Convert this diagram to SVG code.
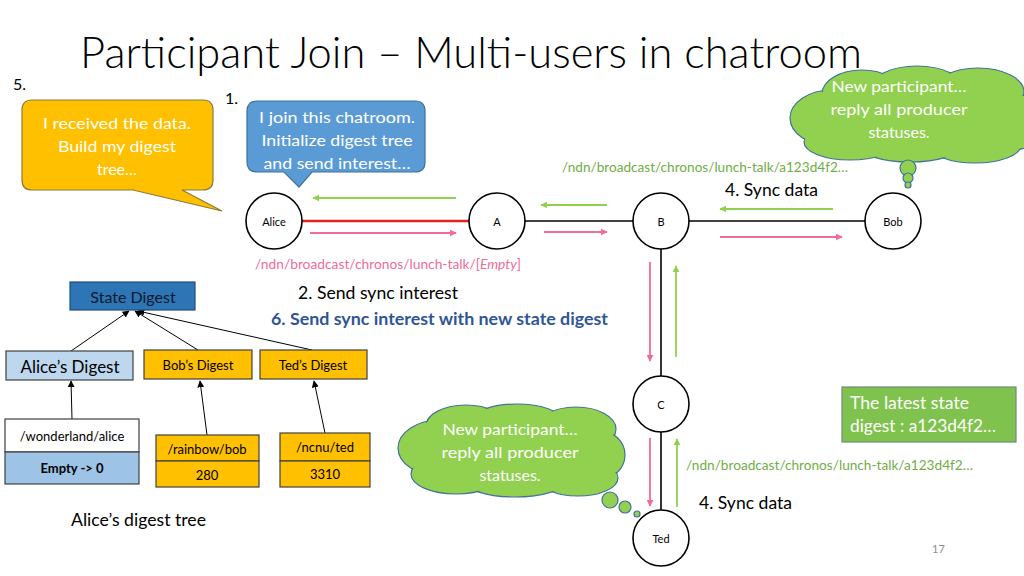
<svg xmlns="http://www.w3.org/2000/svg" width="1024" height="576" viewBox="0 0 1024 576">
<defs>
<marker id="mg" viewBox="0 0 10 10" refX="9" refY="5" markerWidth="7" markerHeight="7" markerUnits="userSpaceOnUse" orient="auto"><path d="M0,0 L10,5 L0,10 Z" fill="#92D050"/></marker>
<marker id="mp" viewBox="0 0 10 10" refX="9" refY="5" markerWidth="7" markerHeight="7" markerUnits="userSpaceOnUse" orient="auto"><path d="M0,0 L10,5 L0,10 Z" fill="#F2699B"/></marker>
<marker id="mk" viewBox="0 0 10 10" refX="9" refY="5" markerWidth="7" markerHeight="7" markerUnits="userSpaceOnUse" orient="auto"><path d="M0,0 L10,5 L0,10 Z" fill="#000"/></marker>
</defs>
<style>
text{font-family:Lato,"Open Sans","Liberation Sans",sans-serif;}
.node{fill:#fff;stroke:#000;stroke-width:1.6;}
.nl{font-size:11px;fill:#000;text-anchor:middle;dominant-baseline:central;}
.lk{stroke:#000;stroke-width:1.6;fill:none;}
.ga{stroke:#92D050;stroke-width:1.8;fill:none;marker-end:url(#mg);}
.pa{stroke:#F2699B;stroke-width:1.8;fill:none;marker-end:url(#mp);}
.ta{stroke:#000;stroke-width:1;fill:none;marker-end:url(#mk);}
.wt{fill:#fff;font-size:16px;text-anchor:middle;}
.lbl{font-size:17px;fill:#000;}
.blue{font-size:17px;fill:#2F5597;font-weight:bold;}
.gl{font-size:13px;fill:#70AD47;}
.pl{font-size:13px;fill:#EE6D98;}
.box{stroke:#404040;stroke-width:1.2;}
.bt{font-size:13px;fill:#000;text-anchor:middle;dominant-baseline:central;}
.bt16{font-size:16px;fill:#0D1A2B;text-anchor:middle;dominant-baseline:central;}
.bt17{font-size:17px;fill:#000;text-anchor:middle;dominant-baseline:central;}
.cs{fill:#92D050;stroke:#41719C;stroke-width:1.2;}
.cf{fill:#92D050;stroke:none;}
</style>

<text x="80" y="68" font-size="44" font-weight="300" fill="#000" textLength="782" lengthAdjust="spacingAndGlyphs">Participant Join – Multi-users in chatroom</text>
<text x="13" y="90" font-size="16" fill="#000">5.</text>
<text x="225" y="104" font-size="16" fill="#000">1.</text>

<g id="callout-yellow">
<path d="M32,100 H203 Q213,100 213,110 V180 Q213,190 203,190 H182 L222,211 L133,190 H32 Q22,190 22,180 V110 Q22,100 32,100 Z" fill="#FFC000" stroke="#8C7A3A" stroke-width="1.2"/>
<text class="wt" x="117" y="129" textLength="148" lengthAdjust="spacingAndGlyphs">I received the data.</text>
<text class="wt" x="117" y="152" textLength="118" lengthAdjust="spacingAndGlyphs">Build my digest</text>
<text class="wt" x="117" y="175">tree…</text>
</g>

<g id="callout-blue">
<path d="M257,101 H415 Q425,101 425,111 V162 Q425,172 415,172 H312 L299,187 L284,172 H257 Q247,172 247,162 V111 Q247,101 257,101 Z" fill="#5B9BD5" stroke="#41719C" stroke-width="1.2"/>
<text class="wt" x="337" y="123" textLength="156" lengthAdjust="spacingAndGlyphs">I join this chatroom.</text>
<text class="wt" x="337" y="146" textLength="151" lengthAdjust="spacingAndGlyphs">Initialize digest tree</text>
<text class="wt" x="337" y="169" textLength="147" lengthAdjust="spacingAndGlyphs">and send interest…</text>
</g>

<g id="cloud-top">
<ellipse class="cs" cx="832" cy="118" rx="42" ry="28"/>
<ellipse class="cs" cx="862" cy="94" rx="40" ry="24"/>
<ellipse class="cs" cx="917" cy="88" rx="46" ry="22"/>
<ellipse class="cs" cx="978" cy="92" rx="46" ry="24"/>
<ellipse class="cs" cx="1012" cy="122" rx="36" ry="28"/>
<ellipse class="cs" cx="975" cy="145" rx="46" ry="18"/>
<ellipse class="cs" cx="910" cy="146" rx="50" ry="16"/>
<ellipse class="cs" cx="850" cy="142" rx="46" ry="18"/>
<ellipse class="cf" cx="832" cy="118" rx="41" ry="27"/>
<ellipse class="cf" cx="862" cy="94" rx="39" ry="23"/>
<ellipse class="cf" cx="917" cy="88" rx="45" ry="21"/>
<ellipse class="cf" cx="978" cy="92" rx="45" ry="23"/>
<ellipse class="cf" cx="1012" cy="122" rx="35" ry="27"/>
<ellipse class="cf" cx="975" cy="145" rx="45" ry="17"/>
<ellipse class="cf" cx="910" cy="146" rx="49" ry="15"/>
<ellipse class="cf" cx="850" cy="142" rx="45" ry="17"/>
<ellipse class="cf" cx="915" cy="118" rx="100" ry="32"/>
<circle class="cs" cx="908" cy="168" r="8"/>
<circle class="cs" cx="908" cy="178" r="5"/>
<circle class="cs" cx="908" cy="185" r="3"/>
<text class="wt" x="899" y="92" textLength="135" lengthAdjust="spacingAndGlyphs">New participant…</text>
<text class="wt" x="899" y="115" textLength="137" lengthAdjust="spacingAndGlyphs">reply all producer</text>
<text class="wt" x="899" y="138">statuses.</text>
</g>

<g id="cloud-bottom">
<ellipse class="cs" cx="440" cy="448" rx="42" ry="28"/>
<ellipse class="cs" cx="466" cy="426" rx="40" ry="21"/>
<ellipse class="cs" cx="517" cy="421" rx="45" ry="17"/>
<ellipse class="cs" cx="576" cy="429" rx="40" ry="22"/>
<ellipse class="cs" cx="600" cy="455" rx="25" ry="24"/>
<ellipse class="cs" cx="578" cy="478" rx="40" ry="18"/>
<ellipse class="cs" cx="515" cy="481" rx="50" ry="16"/>
<ellipse class="cs" cx="456" cy="474" rx="45" ry="20"/>
<ellipse class="cf" cx="440" cy="448" rx="41" ry="27"/>
<ellipse class="cf" cx="466" cy="426" rx="39" ry="20"/>
<ellipse class="cf" cx="517" cy="421" rx="44" ry="16"/>
<ellipse class="cf" cx="576" cy="429" rx="39" ry="21"/>
<ellipse class="cf" cx="600" cy="455" rx="24" ry="23"/>
<ellipse class="cf" cx="578" cy="478" rx="39" ry="17"/>
<ellipse class="cf" cx="515" cy="481" rx="49" ry="15"/>
<ellipse class="cf" cx="456" cy="474" rx="44" ry="19"/>
<ellipse class="cf" cx="512" cy="452" rx="92" ry="30"/>
<circle class="cs" cx="610" cy="500" r="8"/>
<circle class="cs" cx="625" cy="507" r="6"/>
<circle class="cs" cx="637" cy="514" r="3"/>
<text class="wt" x="510" y="435" textLength="135" lengthAdjust="spacingAndGlyphs">New participant…</text>
<text class="wt" x="510" y="458" textLength="137" lengthAdjust="spacingAndGlyphs">reply all producer</text>
<text class="wt" x="510" y="481">statuses.</text>
</g>

<g id="connectors">
<line x1="302" y1="221" x2="469" y2="221" stroke="#E8201E" stroke-width="2.4"/>
<line class="lk" x1="525" y1="221" x2="633" y2="221"/>
<line class="lk" x1="689" y1="221" x2="865" y2="221"/>
<line class="lk" x1="661" y1="249" x2="661" y2="376"/>
<line class="lk" x1="661" y1="432" x2="661" y2="510"/>
<line class="ga" x1="456" y1="198" x2="313" y2="198"/>
<line class="pa" x1="310" y1="233" x2="456" y2="233"/>
<line class="ga" x1="607" y1="205" x2="541" y2="205"/>
<line class="pa" x1="544" y1="232" x2="607" y2="232"/>
<line class="ga" x1="833" y1="209" x2="720" y2="209"/>
<line class="pa" x1="720" y1="237" x2="842" y2="237"/>
<line class="pa" x1="650" y1="262" x2="650" y2="361"/>
<line class="ga" x1="676" y1="357" x2="676" y2="266"/>
<line class="pa" x1="650" y1="438" x2="650" y2="506"/>
<line class="ga" x1="677" y1="507" x2="677" y2="439"/>
<line class="ta" x1="71" y1="351" x2="129" y2="311"/>
<line class="ta" x1="198" y1="350" x2="135" y2="311"/>
<line class="ta" x1="312" y1="350" x2="138" y2="311"/>
<line class="ta" x1="72" y1="419" x2="71" y2="381"/>
<line class="ta" x1="207" y1="435" x2="200" y2="381"/>
<line class="ta" x1="325" y1="433" x2="314" y2="381"/>
</g>

<g id="node-alice"><circle class="node" cx="274" cy="221" r="28"/><text class="nl" x="274" y="221">Alice</text></g>
<g id="node-a"><circle class="node" cx="497" cy="221" r="28"/><text class="nl" x="497" y="221">A</text></g>
<g id="node-b"><circle class="node" cx="661" cy="221" r="28"/><text class="nl" x="661" y="221">B</text></g>
<g id="node-bob"><circle class="node" cx="893" cy="221" r="28"/><text class="nl" x="893" y="221">Bob</text></g>
<g id="node-c"><circle class="node" cx="661" cy="404" r="28"/><text class="nl" x="661" y="404">C</text></g>
<g id="node-ted"><circle class="node" cx="661" cy="538" r="28"/><text class="nl" x="661" y="538">Ted</text></g>

<text class="gl" x="562" y="172" textLength="286" lengthAdjust="spacingAndGlyphs">/ndn/broadcast/chronos/lunch-talk/a123d4f2…</text>
<text class="lbl" x="725" y="196" textLength="93" lengthAdjust="spacingAndGlyphs">4. Sync data</text>
<text class="pl" x="255" y="269" textLength="266" lengthAdjust="spacingAndGlyphs">/ndn/broadcast/chronos/lunch-talk/[<tspan font-style="italic">Empty</tspan>]</text>
<text class="lbl" x="298" y="299" textLength="160" lengthAdjust="spacingAndGlyphs">2. Send sync interest</text>
<text class="blue" x="271" y="325" textLength="337" lengthAdjust="spacingAndGlyphs">6. Send sync interest with new state digest</text>
<text class="gl" x="686" y="470" textLength="287" lengthAdjust="spacingAndGlyphs">/ndn/broadcast/chronos/lunch-talk/a123d4f2…</text>
<text class="lbl" x="699" y="509" textLength="93" lengthAdjust="spacingAndGlyphs">4. Sync data</text>

<g id="latest-box">
<rect x="842" y="387" width="174" height="55" fill="#7FC34E" stroke="#6E8C7A" stroke-width="1.2"/>
<text x="850" y="409" font-size="17" fill="#fff" textLength="119" lengthAdjust="spacingAndGlyphs">The latest state</text>
<text x="850" y="432" font-size="17" fill="#fff" textLength="146" lengthAdjust="spacingAndGlyphs">digest : a123d4f2…</text>
</g>

<g id="state-digest">
<rect x="70" y="282" width="125" height="28" fill="#2E75B6" stroke="#1F4E79" stroke-width="1.2"/>
<text class="bt16" x="133" y="296">State Digest</text>
</g>
<g id="alice-digest">
<rect class="box" x="6" y="351" width="127" height="29" fill="#BDD7EE"/>
<text class="bt17" x="70" y="366">Alice’s Digest</text>
</g>
<g id="bob-digest">
<rect class="box" x="144" y="350" width="108" height="29" fill="#FFC000"/>
<text class="bt" x="198" y="365">Bob’s Digest</text>
</g>
<g id="ted-digest">
<rect class="box" x="260" y="350" width="107" height="29" fill="#FFC000"/>
<text class="bt" x="313" y="365">Ted’s Digest</text>
</g>
<g id="alice-leaf">
<rect class="box" x="5" y="419" width="134" height="33" fill="#fff"/>
<rect class="box" x="5" y="452" width="134" height="32" fill="#9DC3E6"/>
<text class="bt" x="72" y="436">/wonderland/alice</text>
<text class="bt" x="72" y="468" font-weight="bold">Empty -&gt; 0</text>
</g>
<g id="bob-leaf">
<rect class="box" x="156" y="435" width="103" height="26" fill="#FFC000"/>
<rect class="box" x="156" y="461" width="103" height="26" fill="#FFC000"/>
<text class="bt" x="207" y="449">/rainbow/bob</text>
<text class="bt" x="207" y="475">280</text>
</g>
<g id="ted-leaf">
<rect class="box" x="280" y="433" width="90" height="28" fill="#FFC000"/>
<rect class="box" x="280" y="461" width="90" height="26" fill="#FFC000"/>
<text class="bt" x="325" y="447">/ncnu/ted</text>
<text class="bt" x="325" y="474">3310</text>
</g>
<text class="lbl" x="71" y="526" textLength="135" lengthAdjust="spacingAndGlyphs">Alice’s digest tree</text>
<text x="932" y="553" font-size="11" fill="#8C8C8C">17</text>
</svg>
